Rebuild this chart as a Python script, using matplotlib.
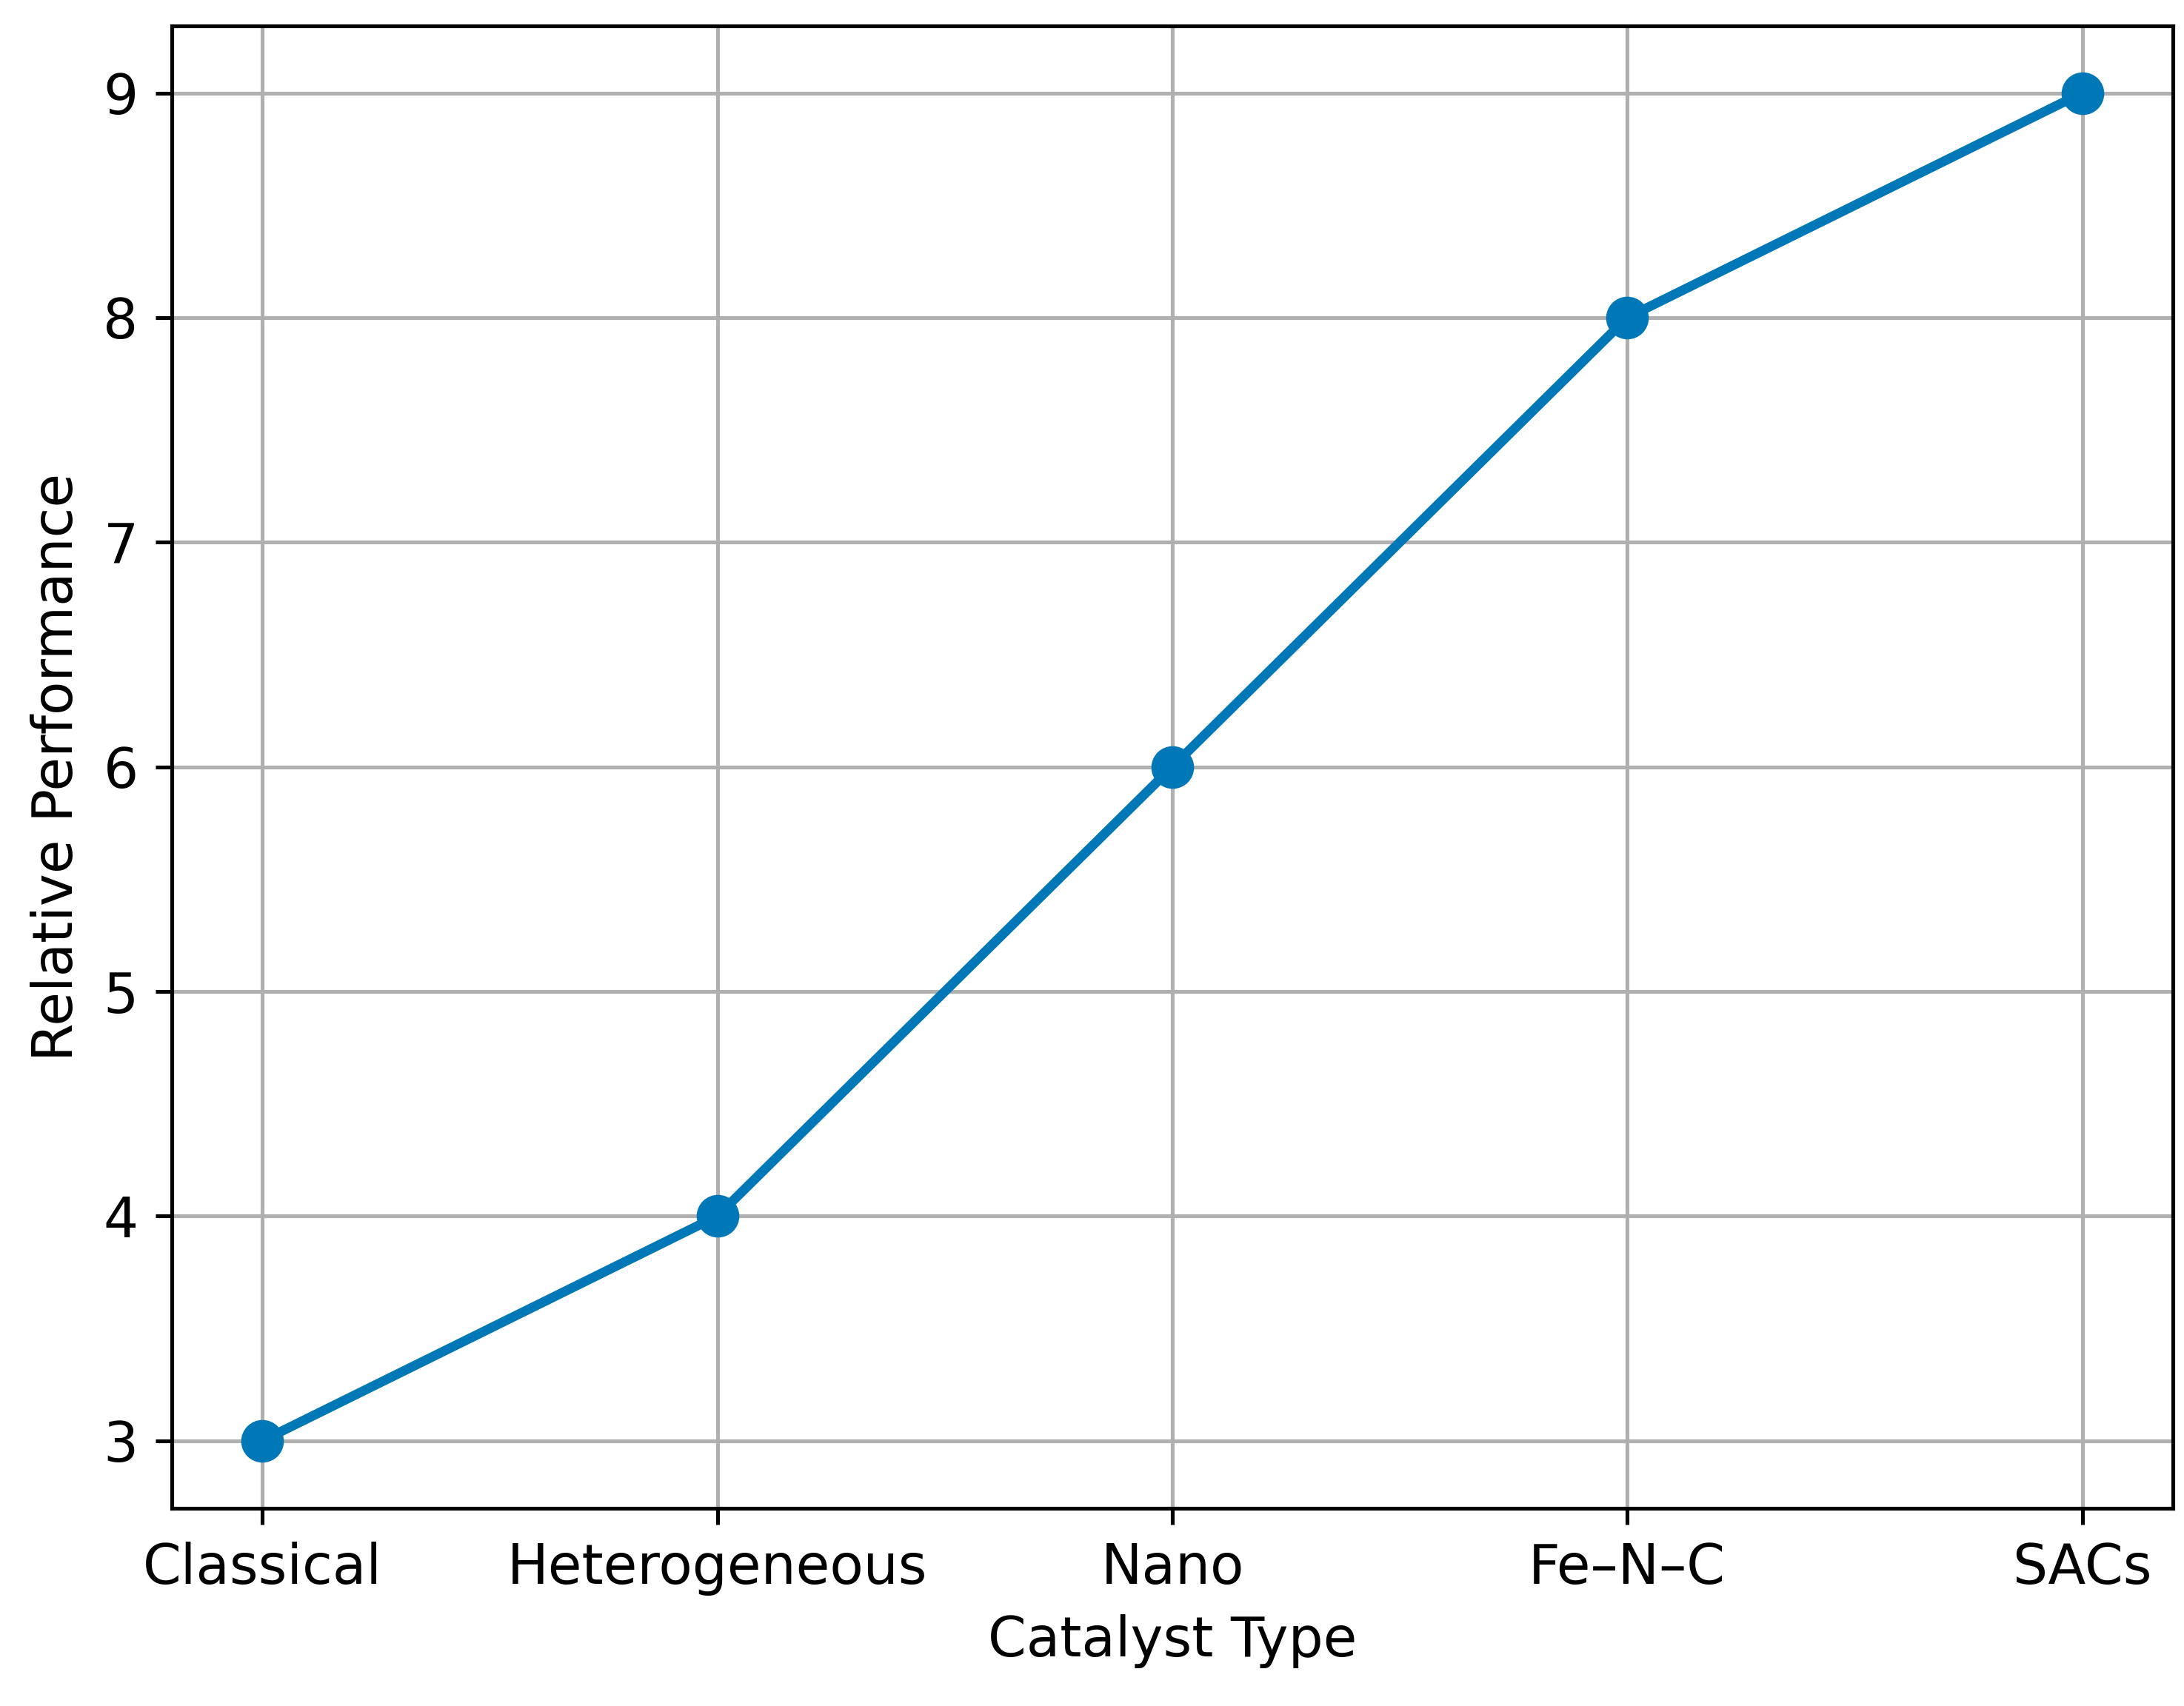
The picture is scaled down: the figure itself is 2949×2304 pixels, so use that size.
import matplotlib
matplotlib.use("Agg")
import matplotlib.pyplot as plt

categories = ["Classical", "Heterogeneous", "Nano", "Fe–N–C", "SACs"]
performance = [3, 4, 6, 8, 9]

fig = plt.figure(figsize=(6.4, 5), dpi=460.8)
ax = fig.add_axes([0.0785, 0.116, 0.9165, 0.869])
ax.plot(categories, performance, marker="o", color="#0077b6", linewidth=2, markersize=8)
ax.set_xlabel("Catalyst Type", fontsize=11.6)
ax.set_ylabel("Relative Performance", fontsize=11.6)
ax.tick_params(labelsize=11.6)
ax.grid(True, color="#b0b0b0", linewidth=0.8)
fig.savefig("out.png", dpi=460.8)
